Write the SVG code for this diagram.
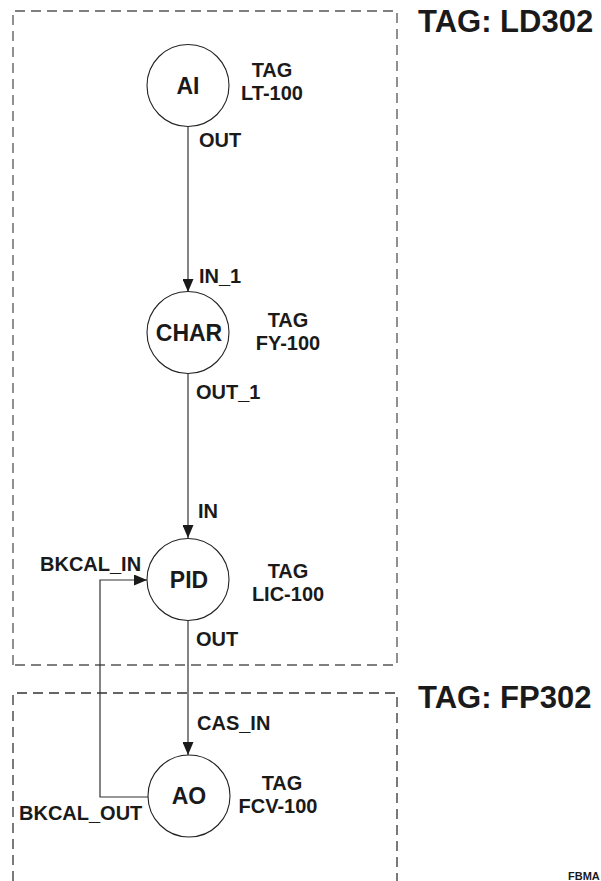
<svg xmlns="http://www.w3.org/2000/svg" width="601" height="881" viewBox="0 0 601 881">
<style>
.box{fill:none;stroke:#555;stroke-width:1.3;stroke-dasharray:10 6}
.box2{stroke:#333}
.node circle{fill:#fff;stroke:#222;stroke-width:1.1}
.nl{font-family:"Liberation Sans",Arial,sans-serif;font-weight:bold;font-size:23px;fill:#1a1a1a;text-anchor:middle}
.tag{font-family:"Liberation Sans",Arial,sans-serif;font-weight:bold;font-size:20px;fill:#1a1a1a;text-anchor:middle}
.port{font-family:"Liberation Sans",Arial,sans-serif;font-weight:bold;font-size:20px;fill:#1a1a1a}
.big{font-family:"Liberation Sans",Arial,sans-serif;font-weight:bold;font-size:31px;fill:#1a1a1a}
.conn path{fill:none;stroke:#333;stroke-width:1.2}
</style>
<defs>
<marker id="arr" viewBox="0 0 13 11" refX="13" refY="5.5" markerWidth="13" markerHeight="11" markerUnits="userSpaceOnUse" orient="auto">
<path d="M0,0 L13,5.5 L0,11 Z" fill="#1a1a1a"/>
</marker>
</defs>
<g id="boxes">
<path class="box" d="M13,665 V11 H397 V665 Z"/>
<path class="box box2" d="M13,881 V693 H397 V881"/>
<text class="big" x="418" y="32">TAG: LD302</text>
<text class="big" x="418" y="708">TAG: FP302</text>
</g>
<g class="conn" id="connectors">
<path d="M188,127 V292" marker-end="url(#arr)"/>
<path d="M188,373 V538" marker-end="url(#arr)"/>
<path d="M188,621 V755" marker-end="url(#arr)"/>
<path d="M148,797 H100 V580 H147" marker-end="url(#arr)"/>
</g>
<g id="labels">
<text class="port" x="199" y="147">OUT</text>
<text class="port" x="199" y="283">IN_1</text>
<text class="port" x="196" y="399">OUT_1</text>
<text class="port" x="198" y="518">IN</text>
<text class="port" x="40" y="571">BKCAL_IN</text>
<text class="port" x="196" y="646">OUT</text>
<text class="port" x="197" y="730">CAS_IN</text>
<text class="port" x="19" y="820">BKCAL_OUT</text>
</g>
<g id="node-ai" class="node">
<circle cx="188" cy="85.5" r="41"/>
<text class="nl" x="188" y="94">AI</text>
<text class="tag" x="272" y="77">TAG</text>
<text class="tag" x="272" y="100">LT-100</text>
</g>
<g id="node-char" class="node">
<circle cx="188" cy="332.5" r="41"/>
<text class="nl" x="189" y="341">CHAR</text>
<text class="tag" x="288" y="327">TAG</text>
<text class="tag" x="288" y="350">FY-100</text>
</g>
<g id="node-pid" class="node">
<circle cx="188" cy="579.5" r="41"/>
<text class="nl" x="189" y="588">PID</text>
<text class="tag" x="288" y="578">TAG</text>
<text class="tag" x="288" y="601">LIC-100</text>
</g>
<g id="node-ao" class="node">
<circle cx="189" cy="796" r="41"/>
<text class="nl" x="189" y="804">AO</text>
<text class="tag" x="282" y="790">TAG</text>
<text class="tag" x="278" y="813">FCV-100</text>
</g>
<text x="568" y="880" font-family="Liberation Sans, Arial, sans-serif" font-weight="bold" font-size="11" fill="#1a1a1a">FBMA</text>
</svg>
